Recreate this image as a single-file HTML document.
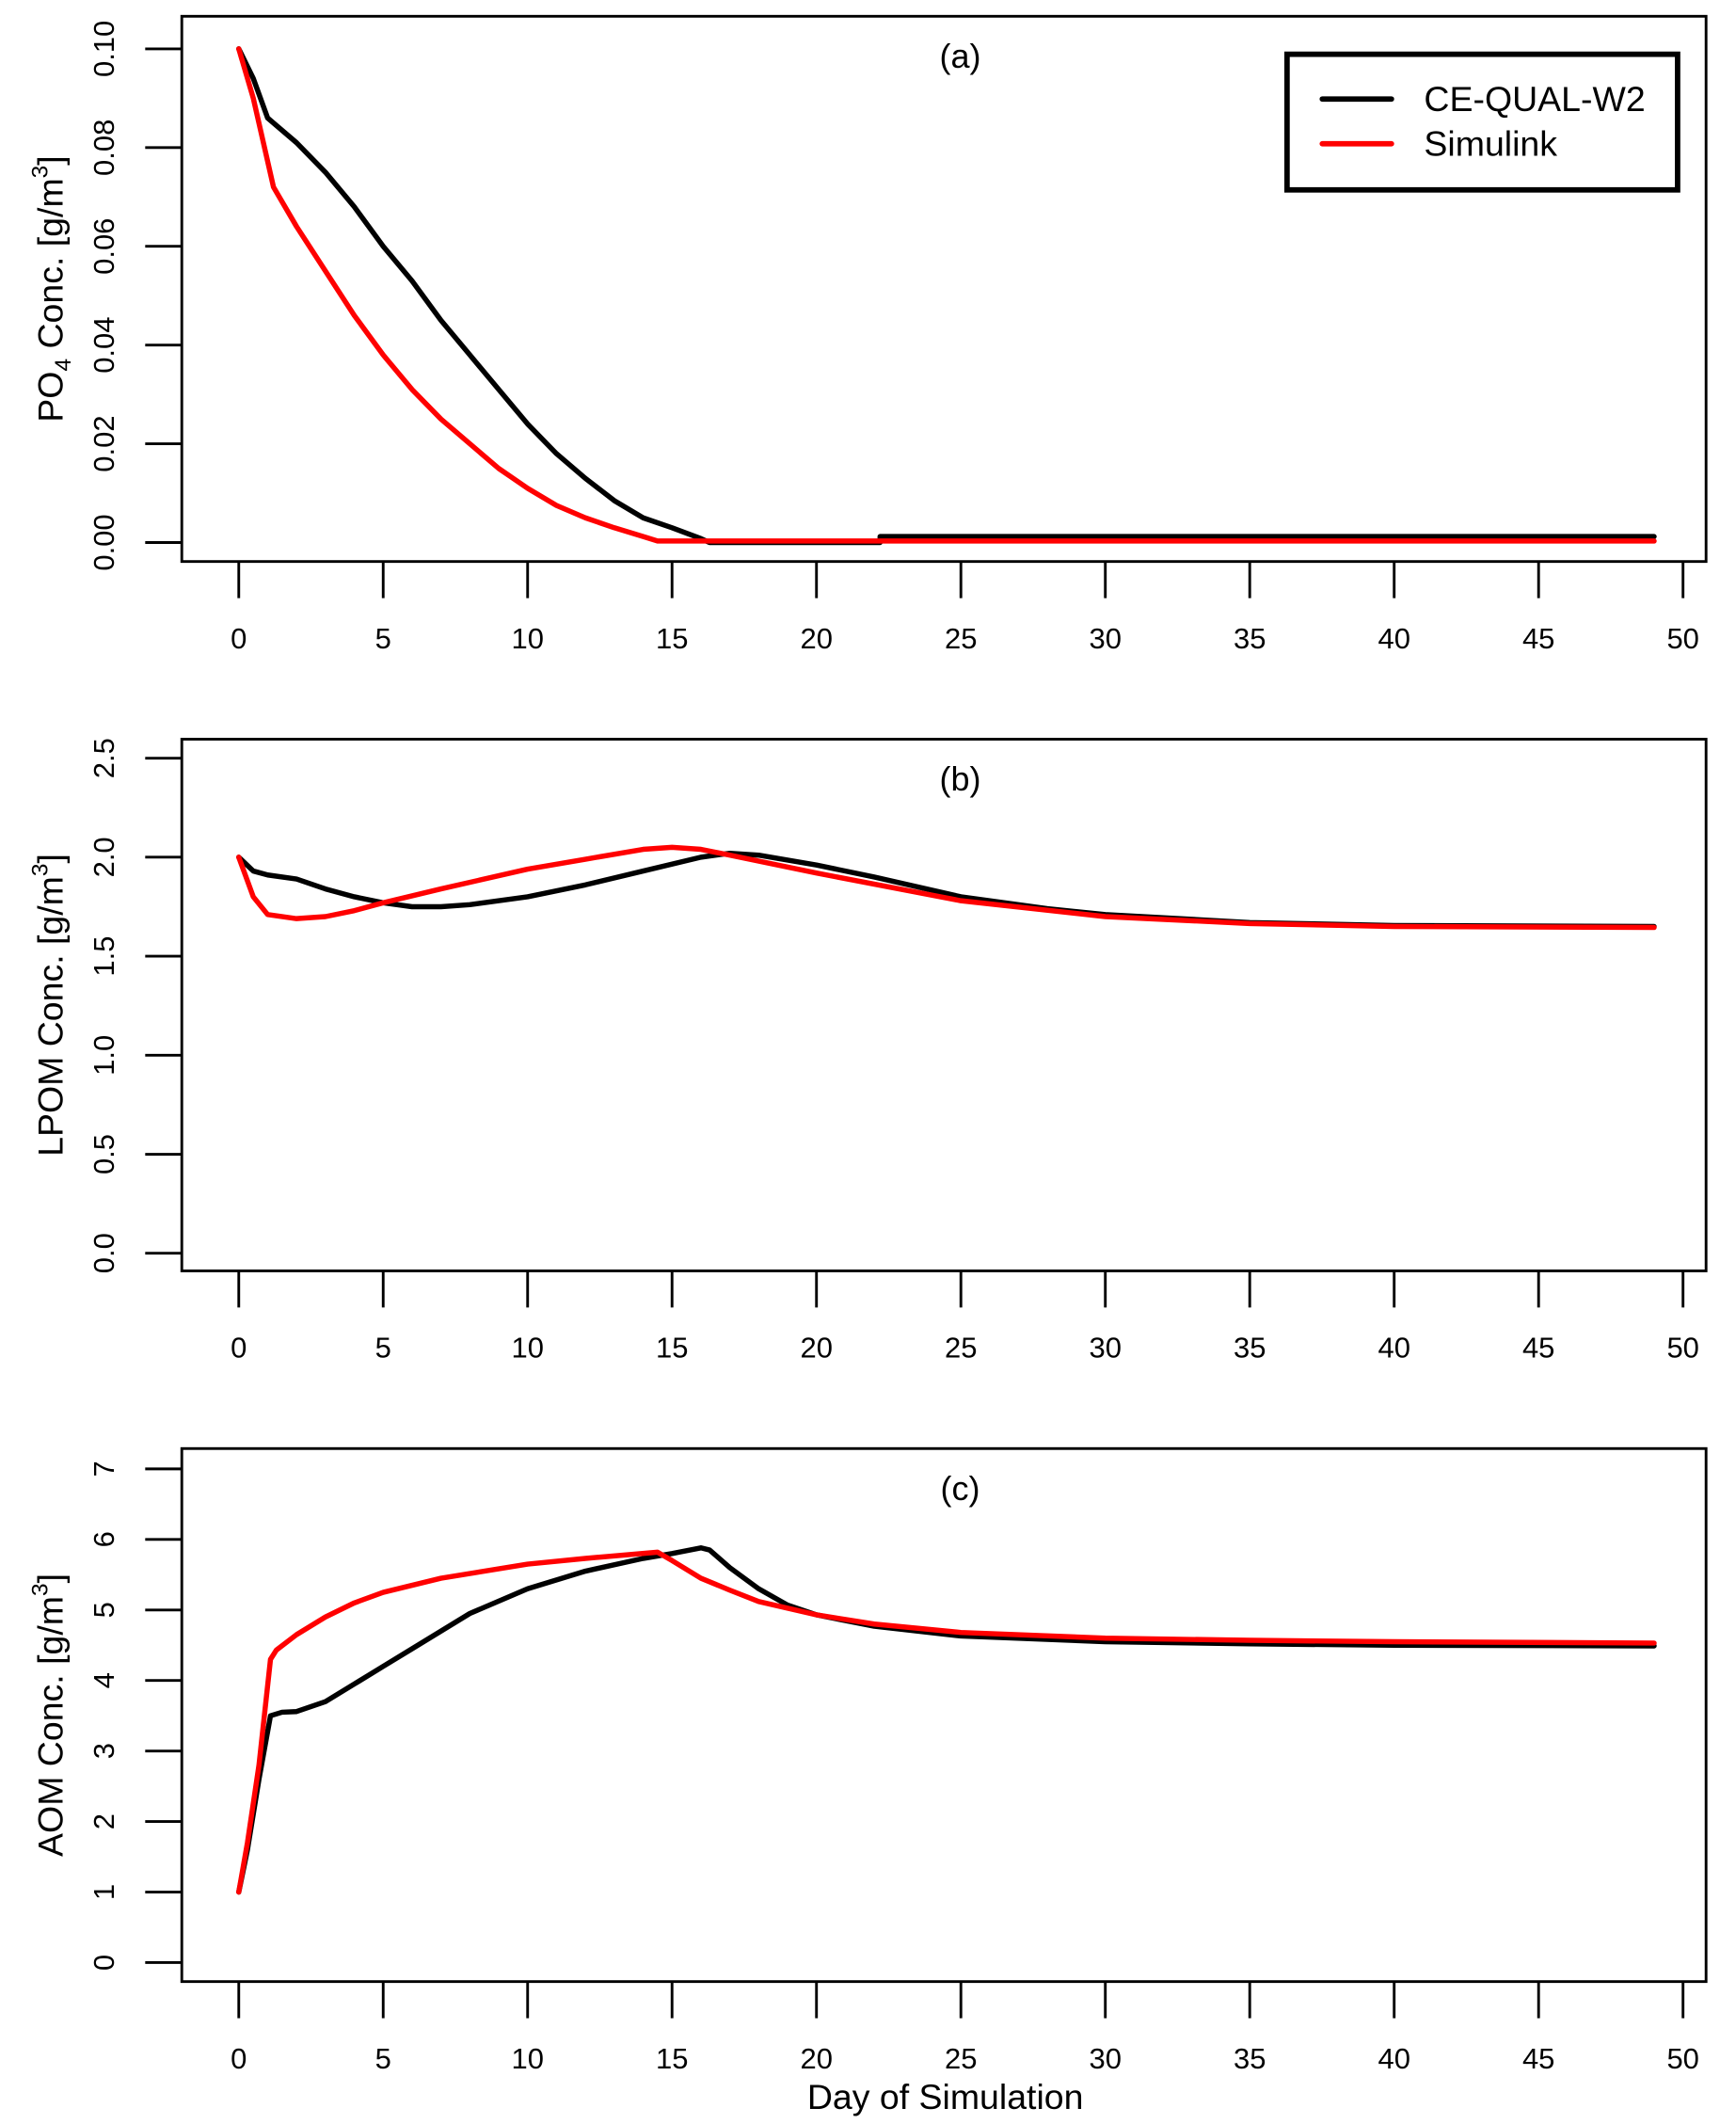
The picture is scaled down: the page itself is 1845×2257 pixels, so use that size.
<!DOCTYPE html>
<html><head><meta charset="utf-8"><style>
html,body{margin:0;padding:0;background:#fff;}
svg{display:block;font-family:"Liberation Sans",sans-serif;}
</style></head><body>
<svg id="fig" width="1845" height="2257" viewBox="0 0 1280 1566" xmlns="http://www.w3.org/2000/svg"></svg>
<script>
const xTicks=[0,5,10,15,20,25,30,35,40,45,50];
const poTicks=[0,0.02,0.04,0.06,0.08,0.10];
const poTickLabels=["0.00","0.02","0.04","0.06","0.08","0.10"];
const lpTicks=[0,0.5,1,1.5,2,2.5];
const lpTickLabels=["0.0","0.5","1.0","1.5","2.0","2.5"];
const aoTicks=[0,1,2,3,4,5,6,7];
const aoTickLabels=["0","1","2","3","4","5","6","7"];

const poBlackX=[0,0.5,1,2,3,4,5,6,7,8,9,10,11,12,13,14,15,16,16.3,22.2,22.2,49];
const poBlackY=[0.1,0.094,0.086,0.081,0.075,0.068,0.060,0.053,0.045,0.038,0.031,0.024,0.018,0.013,0.0085,0.005,0.003,0.0008,0,0,0.0012,0.0012];
const poRedX=[0,0.5,1.2,2,3,4,5,6,7,8,9,10,11,12,13,14,14.5,49];
const poRedY=[0.1,0.09,0.072,0.064,0.055,0.046,0.038,0.031,0.025,0.020,0.015,0.011,0.0075,0.005,0.003,0.0012,0.0003,0.0003];

const lpBlackX=[0,0.5,1,2,3,4,5,6,7,8,10,12,14,16,17,18,20,22,25,28,30,35,40,49];
const lpBlackY=[2.0,1.93,1.91,1.89,1.84,1.80,1.77,1.75,1.75,1.76,1.80,1.86,1.93,2.00,2.02,2.01,1.96,1.90,1.80,1.74,1.71,1.67,1.655,1.65];
const lpRedX=[0,0.5,1,2,3,4,5,7,10,12,14,15,16,17,20,25,30,35,40,49];
const lpRedY=[2.0,1.8,1.71,1.69,1.70,1.73,1.77,1.84,1.94,1.99,2.04,2.05,2.04,2.01,1.92,1.78,1.70,1.665,1.65,1.645];

const aoBlackX=[0,0.3,0.7,1.1,1.5,2,3,4,5,6,7,8,10,12,14,15,16,16.3,17,18,19,20,22,25,30,35,40,49];
const aoBlackY=[1,1.6,2.6,3.5,3.55,3.56,3.7,3.95,4.2,4.45,4.7,4.95,5.3,5.55,5.73,5.8,5.88,5.85,5.6,5.3,5.07,4.93,4.77,4.63,4.55,4.52,4.5,4.49];
const aoRedX=[0,0.3,0.7,1.1,1.3,2,3,4,5,7,10,12,14.5,15,16,17,18,20,22,25,30,35,40,49];
const aoRedY=[1,1.7,2.8,4.3,4.43,4.65,4.9,5.1,5.25,5.45,5.65,5.73,5.82,5.7,5.45,5.28,5.12,4.93,4.8,4.68,4.6,4.57,4.55,4.53];

const NS="http://www.w3.org/2000/svg";
const svg=document.getElementById('fig');
function mk(tag,attrs,parent){const e=document.createElementNS(NS,tag);for(const k in attrs)e.setAttribute(k,attrs[k]);(parent||svg).appendChild(e);return e;}
const sx=v=>176+(v/50)*(1241-176);

const panels=[
 {id:'a',top:12,bot:414,y0:400,y1:36,vmax:0.10,ticks:poTicks,labels:poTickLabels,title:'PO4',series:[[poBlackX,poBlackY,'#000'],[poRedX,poRedY,'#f00']]},
 {id:'b',top:545,bot:937,y0:924,y1:559,vmax:2.5,ticks:lpTicks,labels:lpTickLabels,title:'LPOM Conc. [g/m',series:[[lpBlackX,lpBlackY,'#000'],[lpRedX,lpRedY,'#f00']]},
 {id:'c',top:1068,bot:1461,y0:1447,y1:1083,vmax:7,ticks:aoTicks,labels:aoTickLabels,title:'AOM Conc. [g/m',series:[[aoBlackX,aoBlackY,'#000'],[aoRedX,aoRedY,'#f00']]}
];
panels.forEach(p=>{
 const g=mk('g',{});
 
 
 const sy=v=>p.y0-(v/p.vmax)*(p.y0-p.y1);
 p.series.forEach((s,i)=>{
  const d=s[0].map((x,j)=>(j?'L':'M')+sx(x).toFixed(1)+','+sy(s[1][j]).toFixed(1)).join('');
  const path=mk('path',{d:d,fill:'none',stroke:s[2],'stroke-width':3.8,'stroke-linejoin':'round','stroke-linecap':'round'},g);
  
  
 });
 const box=mk('rect',{x:134,y:p.top,width:1124,height:p.bot-p.top,fill:'none',stroke:'#000','stroke-width':2},g);
 
 
 xTicks.forEach(t=>{
  mk('line',{x1:sx(t),x2:sx(t),y1:p.bot,y2:p.bot+27,stroke:'#000','stroke-width':2},g);
  const tx=mk('text',{x:sx(t),y:p.bot+64,'font-size':21.5,'text-anchor':'middle'},g);
  tx.textContent=t;
  
  
 });
 p.ticks.forEach((t,i)=>{
  const y=sy(t);
  mk('line',{x1:107,x2:134,y1:y,y2:y,stroke:'#000','stroke-width':2},g);
  const tx=mk('text',{x:0,y:0,'font-size':21.5,'text-anchor':'middle',transform:`translate(84,${y}) rotate(-90)`},g);
  tx.textContent=p.labels[i];
  
  
 });
 const lab=mk('text',{x:708,y:p.top+38,'font-size':25,'text-anchor':'middle'},g);
 lab.textContent='('+p.id+')';
 
 
 const cy=(p.top+p.bot)/2;
 const yt=mk('text',{x:0,y:0,'font-size':26,'text-anchor':'middle',transform:`translate(46,${cy}) rotate(-90)`},g);
 
 
 if(p.id==='a'){
  yt.innerHTML='PO<tspan font-size="17" dy="6">4</tspan><tspan dy="-6"> Conc. [g/m</tspan><tspan font-size="17" dy="-11">3</tspan><tspan dy="11">]</tspan>';
 } else {
  yt.innerHTML=p.title+'<tspan font-size="17" dy="-11">3</tspan><tspan dy="11">]</tspan>';
 }
});
const xt=mk('text',{x:697,y:1555,'font-size':26,'text-anchor':'middle'});
xt.textContent='Day of Simulation';



const lg=mk('g',{});


mk('rect',{x:949,y:40,width:288,height:100,fill:'#fff',stroke:'#000','stroke-width':4},lg);
const entries=[['CE-QUAL-W2','#000',73],['Simulink','#f00',106]];
entries.forEach(e=>{
 const eg=mk('g',{},lg);
 
 
 mk('line',{x1:975,x2:1026,y1:e[2],y2:e[2],stroke:e[1],'stroke-width':4,'stroke-linecap':'round'},eg);
 const t=mk('text',{x:1050,y:e[2]+9,'font-size':26},eg);
 t.textContent=e[0];
});
</script>
</body></html>
